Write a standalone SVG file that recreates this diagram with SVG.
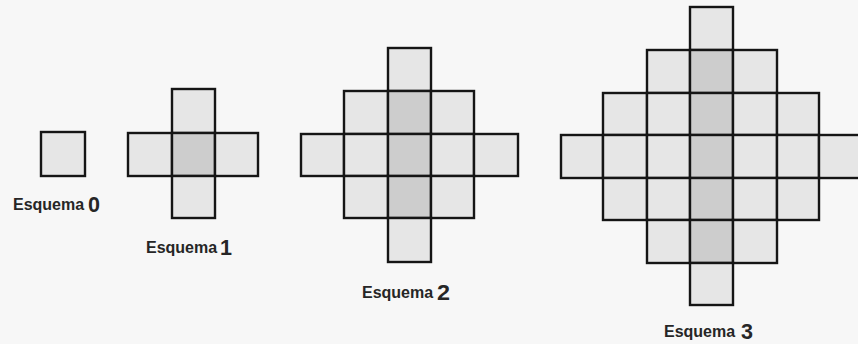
<svg xmlns="http://www.w3.org/2000/svg" width="858" height="344" viewBox="0 0 858 344">
<style>
.l{fill:#e6e6e6;stroke:#151515;stroke-width:2.4}
.d{fill:#cdcdcd;stroke:#151515;stroke-width:2.4}
.t{font-family:"Liberation Sans",Arial,sans-serif;font-weight:bold;fill:#262626;font-size:16px}
.n{font-family:"Liberation Sans",Arial,sans-serif;font-weight:bold;fill:#262626;font-size:22px}
</style>
<rect width="858" height="344" fill="#f7f7f7"/>
<g id="esquema0">
<rect class="l" x="41" y="132" width="44" height="44"/>
<text class="t" x="13" y="210">Esquema</text>
<text class="n" x="88" y="212" textLength="12" lengthAdjust="spacingAndGlyphs">0</text>
</g>
<g id="esquema1">
<rect class="l" x="172" y="89" width="43" height="44"/>
<rect class="l" x="128" y="133" width="44" height="43"/>
<rect class="d" x="172" y="133" width="43" height="43"/>
<rect class="l" x="215" y="133" width="43" height="43"/>
<rect class="l" x="172" y="176" width="43" height="42"/>
<text class="t" x="146" y="253">Esquema</text>
<text class="n" x="220" y="255" textLength="12" lengthAdjust="spacingAndGlyphs">1</text>
</g>
<g id="esquema2">
<rect class="l" x="388" y="48" width="43" height="43"/>
<rect class="l" x="344" y="91" width="44" height="43"/>
<rect class="d" x="388" y="91" width="43" height="43"/>
<rect class="l" x="431" y="91" width="43" height="43"/>
<rect class="l" x="301" y="134" width="43" height="42"/>
<rect class="l" x="344" y="134" width="44" height="42"/>
<rect class="d" x="388" y="134" width="43" height="42"/>
<rect class="l" x="431" y="134" width="43" height="42"/>
<rect class="l" x="474" y="134" width="44" height="42"/>
<rect class="l" x="344" y="176" width="44" height="42"/>
<rect class="d" x="388" y="176" width="43" height="42"/>
<rect class="l" x="431" y="176" width="43" height="42"/>
<rect class="l" x="388" y="218" width="43" height="44"/>
<text class="t" x="362" y="298">Esquema</text>
<text class="n" x="437" y="300" textLength="13" lengthAdjust="spacingAndGlyphs">2</text>
</g>
<g id="esquema3">
<rect class="l" x="690" y="7" width="43" height="43"/>
<rect class="l" x="647" y="50" width="43" height="43"/>
<rect class="d" x="690" y="50" width="43" height="43"/>
<rect class="l" x="733" y="50" width="44" height="43"/>
<rect class="l" x="603" y="93" width="44" height="42"/>
<rect class="l" x="647" y="93" width="43" height="42"/>
<rect class="d" x="690" y="93" width="43" height="42"/>
<rect class="l" x="733" y="93" width="44" height="42"/>
<rect class="l" x="777" y="93" width="42" height="42"/>
<rect class="l" x="561" y="135" width="42" height="43"/>
<rect class="l" x="603" y="135" width="44" height="43"/>
<rect class="l" x="647" y="135" width="43" height="43"/>
<rect class="d" x="690" y="135" width="43" height="43"/>
<rect class="l" x="733" y="135" width="44" height="43"/>
<rect class="l" x="777" y="135" width="42" height="43"/>
<rect class="l" x="819" y="135" width="43" height="43"/>
<rect class="l" x="603" y="178" width="44" height="42"/>
<rect class="l" x="647" y="178" width="43" height="42"/>
<rect class="d" x="690" y="178" width="43" height="42"/>
<rect class="l" x="733" y="178" width="44" height="42"/>
<rect class="l" x="777" y="178" width="42" height="42"/>
<rect class="l" x="647" y="220" width="43" height="43"/>
<rect class="d" x="690" y="220" width="43" height="43"/>
<rect class="l" x="733" y="220" width="44" height="43"/>
<rect class="l" x="690" y="263" width="43" height="42"/>
<text class="t" x="664" y="337">Esquema</text>
<text class="n" x="741" y="339" textLength="12" lengthAdjust="spacingAndGlyphs">3</text>
</g>
</svg>
